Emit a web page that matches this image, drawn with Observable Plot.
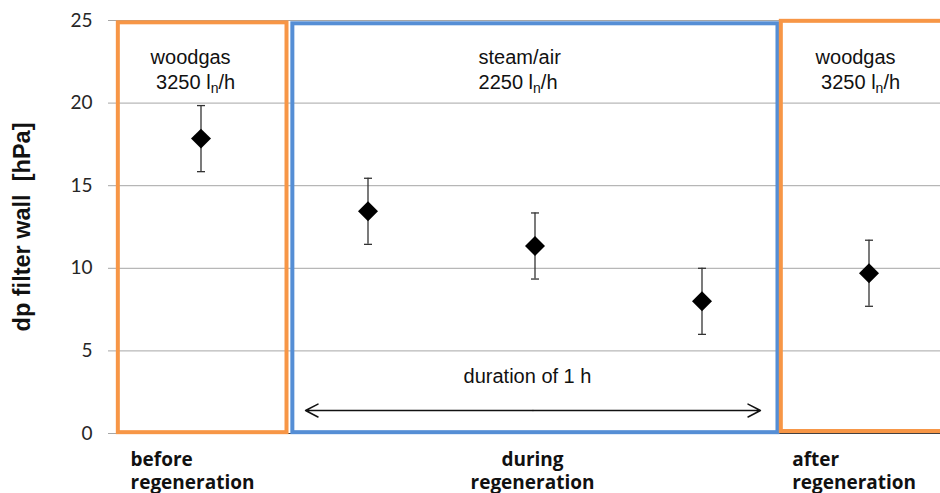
<!DOCTYPE html>
<html>
<head>
<meta charset="utf-8">
<script src="https://cdn.jsdelivr.net/npm/d3@7"></script>
<script src="https://cdn.jsdelivr.net/npm/@observablehq/plot@0.6"></script>
<style>
  body { margin: 0; background: #fff; }
  svg [aria-label="y-axis"] line,
  svg [aria-label="y-axis tick"] path { stroke: #a6a6a6; }
</style>
</head>
<body>
<div id="chart"></div>
<script>
// Filter wall pressure drop: one sample before, three during and one after regeneration
const sample = [1, 2, 3, 4, 5];
const dpMean = [17.85, 13.45, 11.35, 8.0, 9.7];
const dpError = [2.0, 2.0, 2.0, 2.0, 2.0];
const yTicks = [0, 5, 10, 15, 20, 25];
const yTitle = "dp filter wall\u00a0\u00a0[hPa]";

// Test phases, spanning the samples they contain (x in sample units, y in hPa)
const phaseStart = [0.505, 1.55, 4.475];
const phaseEnd = [1.515, 4.455, 5.8];
const phaseBottom = [0.05, 0.05, 0.12];
const phaseTop = [24.86, 24.8, 24.95];
const phaseColor = ["#F79646", "#558ED5", "#F79646"];
const phaseName = ["before\nregeneration", "during\nregeneration", "after\nregeneration"];
const phaseNameX = [0.578, 2.985, 4.54];
const phaseNameCentered = [false, true, false];

// Gas fed in each phase ("_n" is set as a subscript)
const gasLabel = ["woodgas\n\u00a03250 l_n/h", "steam/air\n2250 l_n/h", "woodgas\n\u00a03250 l_n/h"];
const gasLabelX = [0.698, 2.662, 4.68];
const gasLabelY = [23.45, 23.45, 23.45];

// Duration bracket of the steam/air phase
const durationLabel = ["duration of 1 h"];
const durationLabelX = 2.955;
const durationLabelY = 3.42;
const durationStart = 1.626;
const durationEnd = 4.35;
const durationY = 1.39;

const points = sample.map((s, i) => ({
  sample: s, dp: dpMean[i], lo: dpMean[i] - dpError[i], hi: dpMean[i] + dpError[i]
}));
const phases = phaseName.map((name, i) => ({
  name, x1: phaseStart[i], x2: phaseEnd[i], y1: phaseBottom[i], y2: phaseTop[i],
  color: phaseColor[i], nameX: phaseNameX[i], centered: phaseNameCentered[i],
  gas: gasLabel[i], gasX: gasLabelX[i], gasY: gasLabelY[i]
}));
const durationMid = (durationStart + durationEnd) / 2;
const durationArrows = [
  {x1: durationMid, x2: durationStart, y: durationY},
  {x1: durationMid, x2: durationEnd, y: durationY}
];

// horizontal cap symbol for the error bars
const cap = {
  draw(context, size) {
    const r = Math.sqrt(size / Math.PI);
    context.moveTo(-r, 0);
    context.lineTo(r, 0);
  }
};

const labelFont = "'Open Sans', Lato, sans-serif";
const noteFont = "'Liberation Sans', Arial, sans-serif";

const chart = Plot.plot({
  width: 940,
  height: 493,
  marginLeft: 117,
  marginRight: 0,
  marginTop: 20,
  marginBottom: 60,
  style: {fontFamily: "Lato, 'Liberation Sans', sans-serif", fontSize: "19px", color: "#262626", background: "#fff"},
  x: {domain: [0.5, 5.5], range: [117, 952], axis: null},
  y: {domain: [0, 25], ticks: yTicks, tickSize: 9, tickPadding: 16, label: null},
  marks: [
    Plot.ruleY(yTicks.filter(v => v > 0), {stroke: "#a6a6a6", strokeWidth: 1}),
    Plot.ruleY([0], {stroke: "#404040", strokeWidth: 1.2}),
    Plot.rect(phases, {
      x1: "x1", x2: "x2", y1: "y1", y2: "y2",
      fill: "none", stroke: "color", strokeWidth: 4, ariaLabel: "phase"
    }),
    Plot.text(phases, {
      x: "gasX", y: "gasY", text: "gas", textAnchor: "start", lineAnchor: "top",
      lineHeight: 1.25, fontSize: 20, fill: "#111", fontFamily: noteFont
    }),
    Plot.text(phases.filter(d => !d.centered), {
      x: "nameX", y: () => 0, text: "name", textAnchor: "start", lineAnchor: "top",
      dy: 16, lineHeight: 1.22, fontSize: 19, fontWeight: "bold", fill: "#111", fontFamily: labelFont
    }),
    Plot.text(phases.filter(d => d.centered), {
      x: "nameX", y: () => 0, text: "name", textAnchor: "middle", lineAnchor: "top",
      dy: 16, lineHeight: 1.22, fontSize: 19, fontWeight: "bold", fill: "#111", fontFamily: labelFont
    }),
    Plot.arrow(durationArrows, {
      x1: "x1", x2: "x2", y1: "y", y2: "y",
      stroke: "#111", strokeWidth: 1.5, headLength: 14, headAngle: 55
    }),
    Plot.text(durationLabel, {
      x: () => durationLabelX, y: () => durationLabelY, text: d => d,
      fontSize: 20, fill: "#111", fontFamily: noteFont
    }),
    Plot.ruleX(points, {x: "sample", y1: "lo", y2: "hi", stroke: "#333", strokeWidth: 1.3}),
    Plot.dot(points, {x: "sample", y: "lo", symbol: cap, r: 4, fill: "none", stroke: "#333", strokeWidth: 1.3}),
    Plot.dot(points, {x: "sample", y: "hi", symbol: cap, r: 4, fill: "none", stroke: "#333", strokeWidth: 1.3}),
    Plot.dot(points, {x: "sample", y: "dp", symbol: "diamond2", r: 9, fill: "#000", stroke: "none"}),
    Plot.text([yTitle], {
      frameAnchor: "left", textAnchor: "middle", lineAnchor: "middle", rotate: -90, dx: -95,
      text: d => d, fontSize: 23.5, fontWeight: "bold", fill: "#111", fontFamily: noteFont
    })
  ]
});

// soft drop shadow under the phase frames
const phaseGroup = chart.querySelector('[aria-label="phase"]');
if (phaseGroup) phaseGroup.style.filter = "drop-shadow(1.5px 2px 1.5px rgba(0,0,0,0.3))";

// render "l_n" with a subscript n
const ns = "http://www.w3.org/2000/svg";
for (const el of chart.querySelectorAll("text, tspan")) {
  if (el.children.length) continue;
  const s = el.textContent;
  const i = s.indexOf("_n");
  if (i < 0) continue;
  el.textContent = s.slice(0, i);
  const sub = document.createElementNS(ns, "tspan");
  sub.setAttribute("dy", "4");
  sub.setAttribute("font-size", "14");
  sub.textContent = "n";
  const rest = document.createElementNS(ns, "tspan");
  rest.setAttribute("dy", "-4");
  rest.textContent = s.slice(i + 2);
  el.append(sub, rest);
}

document.getElementById("chart").append(chart);
</script>
</body>
</html>
